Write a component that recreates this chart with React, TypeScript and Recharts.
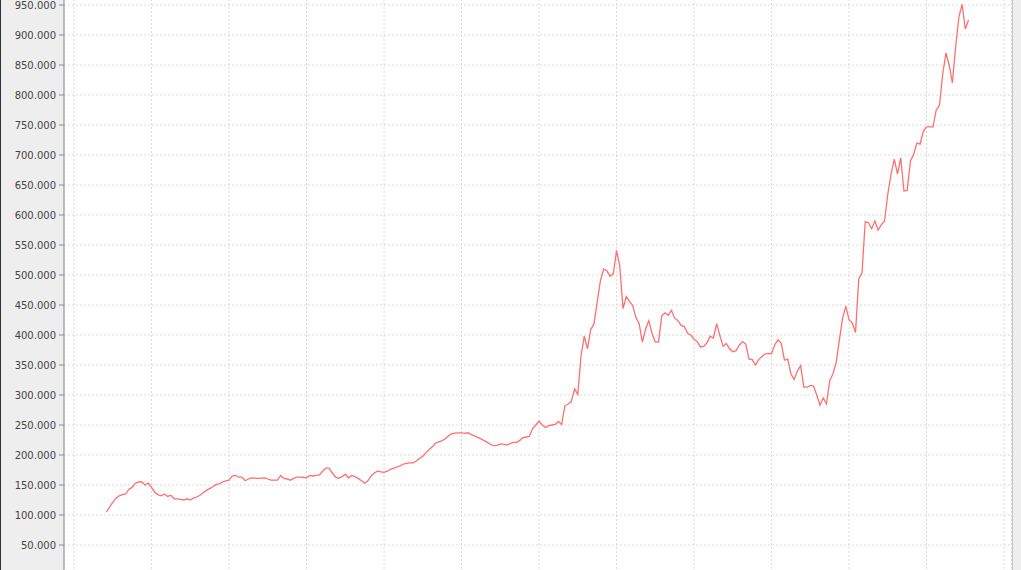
import { LineChart, Line, XAxis, YAxis, CartesianGrid } from "recharts";

// monthly index series, values in thousands
const startMonth = 10;
const values = [
  105, 113, 121, 128, 132, 134, 135, 143, 146, 153, 155, 155, 150, 153, 146, 138,
  134, 132, 135, 131, 133, 127, 127, 126, 125, 127, 125, 128, 130, 133, 137, 141,
  144, 147, 151, 152, 155, 157, 158, 165, 166, 163, 163, 157, 160, 162, 161.5, 161,
  161.5, 162, 160, 158, 158, 158, 166, 161, 160, 158, 161, 163, 163, 162.5, 162, 166,
  165, 166, 167, 173, 178, 178, 170, 163, 161, 164, 168, 162, 166, 164, 161, 157,
  153, 157, 165, 170, 173, 172, 171, 173, 176, 178, 180, 182, 185, 186, 187, 187,
  190, 194, 198, 204, 209, 214, 220, 222, 224, 227, 232, 235.5, 236.5, 237, 237, 236,
  237, 234, 232, 229.5, 227, 224, 221, 217.5, 215.5, 216, 218, 218, 216.7, 219, 221, 221,
  224, 229, 230, 231, 244, 250, 256.7, 250, 245.7, 249, 250, 251, 256, 251, 282, 285,
  289, 310, 301, 365, 398, 377, 409, 418, 455, 490, 510, 507, 498, 502, 541, 515,
  444, 464, 456, 449, 429, 419, 388, 410, 424, 402, 388, 388, 432, 437, 433, 441,
  428, 424, 416, 414, 403, 400, 393, 389, 380, 381, 387, 398, 395, 419, 399, 381,
  386, 377, 372, 374, 383, 389, 385, 360, 359, 350, 359, 364, 368, 369.5, 369, 384,
  392, 386, 358, 360, 335, 326, 340, 349, 313, 313, 316, 315, 300, 283, 295, 285,
  324, 335, 354, 392, 428, 448, 425, 420, 404, 494, 503, 589, 587, 577, 590, 575,
  584, 590, 635, 668, 693, 668, 695, 640, 641, 690, 701, 720, 718, 740, 747, 747,
  747, 775, 783, 835, 870, 850, 820, 880, 930, 951, 910, 925,
];

const yTicks = [
  50, 100, 150, 200, 250, 300, 350, 400, 450, 500, 550, 600, 650, 700, 750, 800,
  850, 900, 950,
];
const xTicks = [0, 24, 48, 72, 96, 120, 144, 168, 192, 216, 240, 264, 288];

const data = values.map((v, i) => ({ month: startMonth + i, value: v }));

export default function App() {
  return (
    <div
      style={{
        position: "fixed",
        left: 0,
        top: 0,
        width: 1021,
        height: 570,
        overflow: "hidden",
        background: "#eeeeee",
        borderLeft: "1px solid #333",
        boxSizing: "border-box",
      }}
    >
      <div style={{ position: "absolute", left: -1, top: -24.8 }}>
        <LineChart
          width={1021}
          height={600}
          data={data}
          margin={{ top: 0, right: 9.5, left: 0, bottom: 0 }}
        >
          <CartesianGrid
            stroke="#dadada"
            strokeDasharray="2 2"
            fill="#ffffff"
            fillOpacity={1}
          />
          <XAxis
            dataKey="month"
            type="number"
            domain={[-3.1, 290.3]}
            ticks={xTicks}
            allowDataOverflow
            hide
          />
          <YAxis
            type="number"
            domain={[0, 1000]}
            ticks={yTicks}
            interval={0}
            width={64}
            allowDataOverflow
            tickSize={5}
            tickMargin={3}
            tickFormatter={(v: number) => v.toFixed(3)}
            tick={{ fill: "#444444", fontSize: 10, fontFamily: "DejaVu Sans" }}
            tickLine={{ stroke: "#888888" }}
            axisLine={{ stroke: "#888888" }}
          />
          <Line
            dataKey="value"
            type="linear"
            stroke="#ff6f6f"
            strokeWidth={1.3}
            dot={false}
            isAnimationActive={false}
          />
        </LineChart>
      </div>
      <div
        style={{
          position: "absolute",
          left: 1011,
          top: 0,
          width: 1,
          height: 570,
          background: "#c4c4c4",
        }}
      />
    </div>
  );
}
